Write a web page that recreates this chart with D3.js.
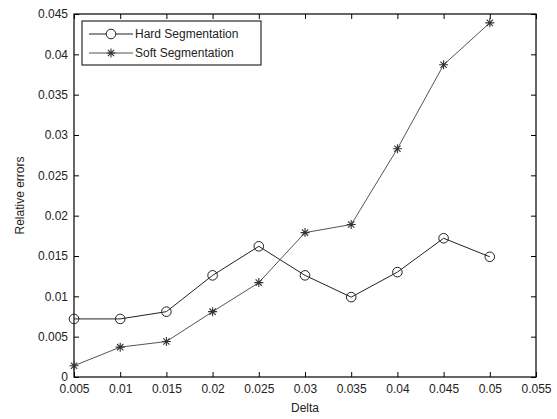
<!DOCTYPE html>
<html>
<head>
<meta charset="utf-8">
<script src="https://cdn.jsdelivr.net/npm/d3@7"></script>
<style>
  body { margin: 0; background: #fff; }
  text { font-family: "Liberation Sans", Arial, sans-serif; font-size: 12px; fill: #222; }
</style>
</head>
<body>
<div id="chart"></div>
<script>
// data
const delta = [0.005, 0.01, 0.015, 0.02, 0.025, 0.03, 0.035, 0.04, 0.045, 0.05];
const hard = [0.0072, 0.0072, 0.0081, 0.0126, 0.0162, 0.0126, 0.0099, 0.0130, 0.0172, 0.0149];
const soft = [0.0014, 0.0037, 0.0044, 0.0081, 0.0117, 0.0179, 0.0189, 0.0283, 0.0387, 0.0439];
const xTicks = [0.005, 0.01, 0.015, 0.02, 0.025, 0.03, 0.035, 0.04, 0.045, 0.05, 0.055];
const yTicks = [0, 0.005, 0.01, 0.015, 0.02, 0.025, 0.03, 0.035, 0.04, 0.045];

const w = 557, h = 419;
const margin = { left: 74, right: 21, top: 14, bottom: 42 };

const svg = d3.select("#chart")
  .append("svg")
  .attr("width", w)
  .attr("height", h);

const x = d3.scaleLinear().domain([0.005, 0.055]).range([margin.left, w - margin.right]);
const y = d3.scaleLinear().domain([0, 0.045]).range([h - margin.bottom, margin.top]);

const fmt = d => String(+d.toFixed(3));

// axes, ticks pointing inward (matlab look)
const axisStyle = g => {
  g.select(".domain").remove();
  g.selectAll(".tick line").attr("stroke", "#000");
};

svg.append("g")
  .attr("transform", `translate(0,${y(0)})`)
  .call(d3.axisBottom(x).tickValues(xTicks).tickFormat(fmt).tickSizeInner(-5).tickPadding(5))
  .call(axisStyle)
  .call(g => g.selectAll("text").attr("dy", "0.9em"));

svg.append("g")
  .attr("transform", `translate(0,${margin.top})`)
  .call(d3.axisTop(x).tickValues(xTicks).tickFormat("").tickSizeInner(-5))
  .call(axisStyle);

svg.append("g")
  .attr("transform", `translate(${margin.left},0)`)
  .call(d3.axisLeft(y).tickValues(yTicks).tickFormat(fmt).tickSizeInner(-5).tickPadding(6))
  .call(axisStyle);

svg.append("g")
  .attr("transform", `translate(${w - margin.right},0)`)
  .call(d3.axisRight(y).tickValues(yTicks).tickFormat("").tickSizeInner(-5))
  .call(axisStyle);

svg.selectAll(".tick text").style("font-family", "Liberation Sans, Arial, sans-serif")
  .style("font-size", "12px").attr("fill", "#222");

// box
svg.append("rect")
  .attr("x", margin.left).attr("y", margin.top)
  .attr("width", w - margin.left - margin.right)
  .attr("height", h - margin.top - margin.bottom)
  .attr("fill", "none").attr("stroke", "#000").attr("stroke-width", 1.2);

// axis labels
svg.append("text")
  .attr("x", (x.range()[0] + x.range()[1]) / 2)
  .attr("y", 412)
  .attr("text-anchor", "middle")
  .text("Delta");

svg.append("text")
  .attr("transform", `translate(24,${(y.range()[0] + y.range()[1]) / 2}) rotate(-90)`)
  .attr("text-anchor", "middle")
  .text("Relative errors");

const line = d3.line().x((d, i) => x(delta[i])).y(d => y(d));

// hard segmentation
svg.append("path").datum(hard)
  .attr("d", line).attr("fill", "none").attr("stroke", "#222").attr("stroke-width", 1);
svg.append("g").selectAll("circle").data(hard).join("circle")
  .attr("cx", (d, i) => x(delta[i])).attr("cy", d => y(d)).attr("r", 4.8)
  .attr("fill", "none").attr("stroke", "#222").attr("stroke-width", 1);

// soft segmentation
const star = (g, cx, cy, s, col) => {
  const p = `M${cx - s},${cy}H${cx + s}M${cx},${cy - s}V${cy + s}` +
    `M${cx - s * 0.7},${cy - s * 0.7}L${cx + s * 0.7},${cy + s * 0.7}` +
    `M${cx - s * 0.7},${cy + s * 0.7}L${cx + s * 0.7},${cy - s * 0.7}`;
  g.append("path").attr("d", p).attr("stroke", col).attr("stroke-width", 1.1).attr("fill", "none");
};
svg.append("path").datum(soft)
  .attr("d", line).attr("fill", "none").attr("stroke", "#555").attr("stroke-width", 1);
const sg = svg.append("g");
soft.forEach((d, i) => star(sg, x(delta[i]), y(d), 4.5, "#333"));

// legend
const lg = svg.append("g");
lg.append("rect").attr("x", 82).attr("y", 21).attr("width", 179).attr("height", 44)
  .attr("fill", "#fff").attr("stroke", "#000").attr("stroke-width", 1);
lg.append("line").attr("x1", 89).attr("x2", 133).attr("y1", 34).attr("y2", 34).attr("stroke", "#222");
lg.append("circle").attr("cx", 111).attr("cy", 34).attr("r", 4.8).attr("fill", "#fff").attr("stroke", "#222");
lg.append("line").attr("x1", 89).attr("x2", 133).attr("y1", 53).attr("y2", 53).attr("stroke", "#555");
star(lg, 111, 53, 4.5, "#333");
lg.append("text").attr("x", 135).attr("y", 38).text("Hard Segmentation");
lg.append("text").attr("x", 135).attr("y", 57).text("Soft Segmentation");
</script>
</body>
</html>
